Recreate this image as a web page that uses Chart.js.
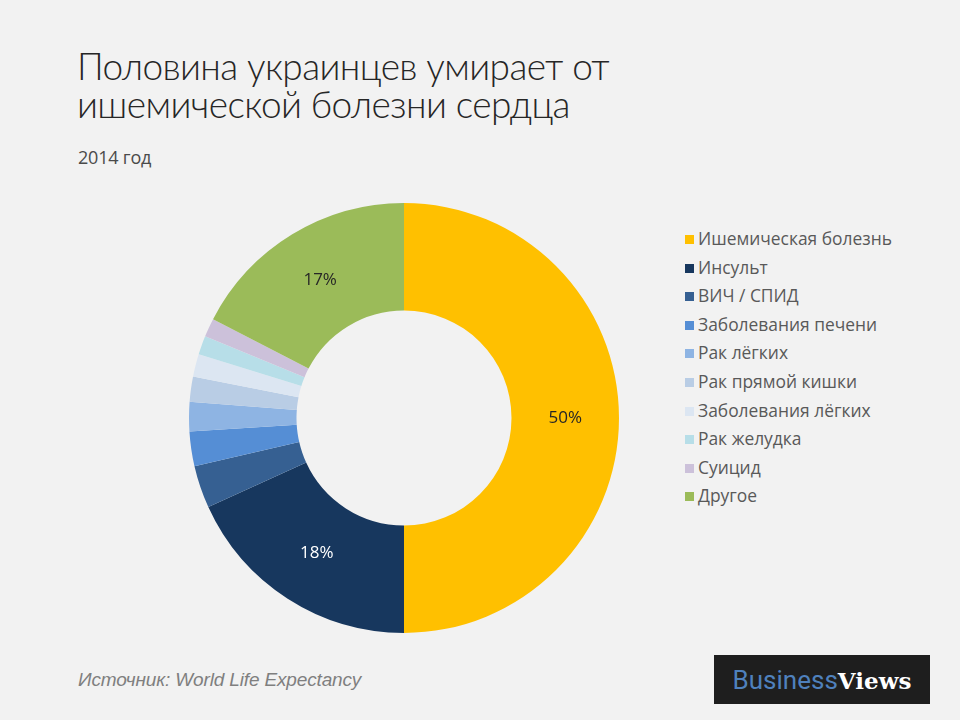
<!DOCTYPE html>
<html>
<head>
<meta charset="utf-8">
<script src="https://cdn.jsdelivr.net/npm/chart.js@4/dist/chart.umd.min.js"></script>
<style>
  html, body { margin: 0; padding: 0; }
  body { width: 960px; height: 720px; background: #f2f2f2; position: relative; overflow: hidden;
         font-family: "Open Sans", "Liberation Sans", sans-serif; }
  #title { position: absolute; left: 77px; top: 47px; font-size: 37px; font-weight: 300; line-height: 38px;
           color: #262626; font-family: "Lato", "Open Sans", sans-serif; letter-spacing: -0.6px; }
  #sub { position: absolute; left: 78px; top: 145px; font-size: 18px; color: #4a4a4a; letter-spacing: -0.2px; }
  #wrap { position: absolute; left: 189px; top: 203px; width: 430px; height: 430px; }
  #legend { position: absolute; left: 685px; top: 226px; list-style: none; margin: 0; padding: 0; }
  #legend li { height: 28.6px; line-height: 24px; font-size: 17.4px; color: #595959; white-space: nowrap; }
  #legend span.box { display: inline-block; width: 9px; height: 9px; margin-right: 4px; vertical-align: 1px; }
  #source { position: absolute; left: 78px; top: 669px; font-size: 19px; font-style: italic; color: #7f7f7f;
            font-family: "Liberation Sans", sans-serif; letter-spacing: -0.15px; }
  #logo { position: absolute; left: 714px; top: 655px; width: 216px; height: 49px; background: #1e1e1e;
          line-height: 49px; text-align: center; font-size: 26px; }
  #logo .b { color: #4f81bd; font-family: "Liberation Sans Narrow", "Roboto", sans-serif; }
  #logo .v { color: #ffffff; font-family: "DejaVu Serif", serif; font-weight: bold; font-size: 23px; }
</style>
</head>
<body>
<div id="title">Половина украинцев умирает от<br>ишемической болезни сердца</div>
<div id="sub">2014 год</div>
<div id="wrap"><canvas id="pie"></canvas></div>
<ul id="legend"></ul>
<div id="source">Источник: World Life Expectancy</div>
<div id="logo"><span class="b">Business</span><span class="v">Views</span></div>
<script>
// Причины смерти, % от всех смертей (2014)
const causes = ['Ишемическая болезнь', 'Инсульт', 'ВИЧ / СПИД', 'Заболевания печени', 'Рак лёгких',
                'Рак прямой кишки', 'Заболевания лёгких', 'Рак желудка', 'Суицид', 'Другое'];
const shares = [50, 18.2, 3.2, 2.6, 2.2, 1.9, 1.7, 1.4, 1.4, 17.4];
const sliceColors = ['#ffc000', '#17375e', '#366092', '#558ed5', '#8eb4e3',
                     '#b9cde5', '#dce6f2', '#b7dee8', '#ccc1da', '#9bbb59'];
const labelColors = ['#262626', '#ffffff', null, null, null, null, null, null, null, '#262626'];

// percent labels on the big slices
const pctLabels = {
    id: 'pctLabels',
    afterDatasetsDraw(chart) {
        const ctx = chart.ctx;
        const total = shares.reduce((a, b) => a + b, 0);
        const meta = chart.getDatasetMeta(0);
        ctx.save();
        ctx.font = '17px "Open Sans", "Liberation Sans", sans-serif';
        ctx.textAlign = 'center';
        ctx.textBaseline = 'middle';
        meta.data.forEach((arc, i) => {
            if (!labelColors[i]) return;
            const p = arc.tooltipPosition();
            ctx.fillStyle = labelColors[i];
            ctx.fillText(Math.round(shares[i] / total * 100) + '%', p.x, p.y);
        });
        ctx.restore();
    }
};

const chart = new Chart(document.getElementById('pie'), {
    type: 'doughnut',
    data: {
        labels: causes,
        datasets: [{
            data: shares,
            backgroundColor: sliceColors,
            borderWidth: 0
        }]
    },
    options: {
        responsive: true,
        maintainAspectRatio: false,
        animation: false,
        cutout: '50%',
        layout: { padding: 0 },
        plugins: {
            legend: { display: false },
            tooltip: { enabled: false }
        }
    },
    plugins: [pctLabels]
});

// legend list from the chart's own labels
const items = chart.options.plugins.legend.labels.generateLabels(chart);
const ul = document.getElementById('legend');
items.forEach(it => {
    const li = document.createElement('li');
    const box = document.createElement('span');
    box.className = 'box';
    box.style.background = it.fillStyle;
    li.appendChild(box);
    li.appendChild(document.createTextNode(it.text));
    ul.appendChild(li);
});
</script>
</body>
</html>
